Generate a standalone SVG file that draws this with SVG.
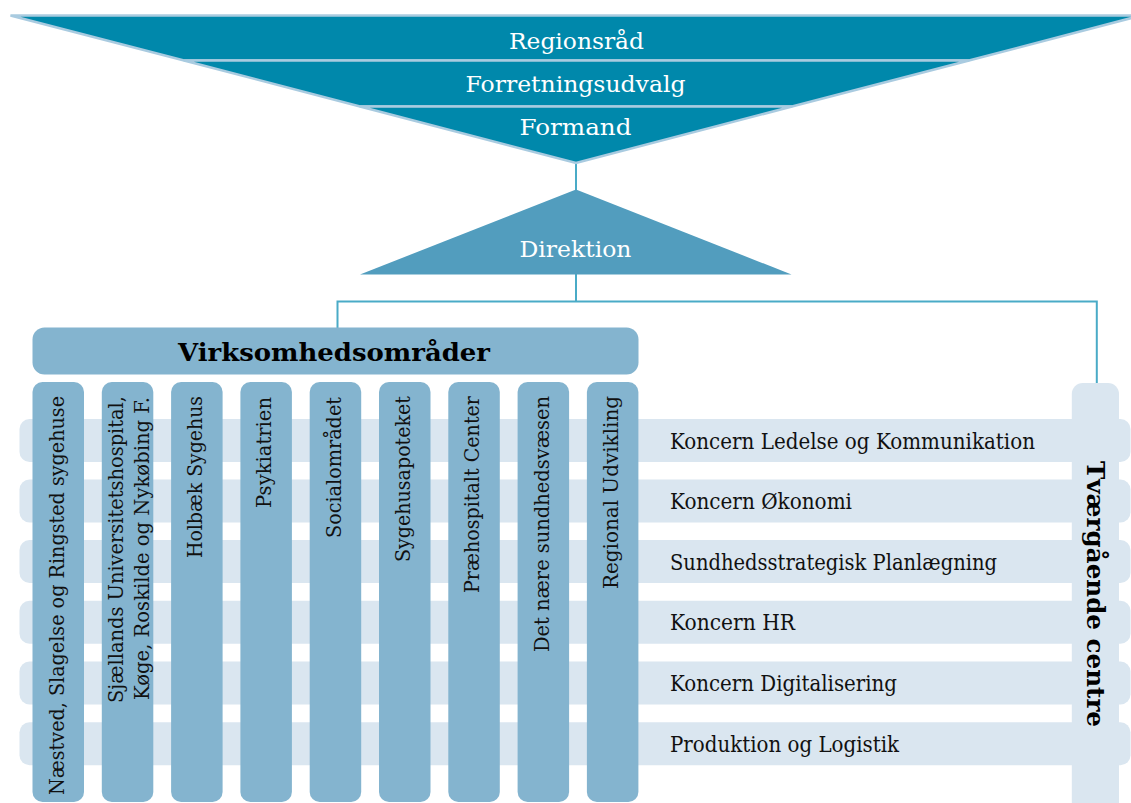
<svg xmlns="http://www.w3.org/2000/svg" width="1131" height="803" viewBox="0 0 1131 803">
<style>
text{font-family:"DejaVu Serif","Liberation Serif",serif;}
.band{fill:#0088ab;stroke:#a9cbe0;stroke-width:2.5;stroke-linejoin:miter;}
.wt{fill:#ffffff;font-size:23px;text-anchor:middle;}
.dir{fill:#529dbe;}
.conn{stroke:#4aabc7;stroke-width:2;fill:none;}
.vbox{fill:#84b4cf;}
.row{fill:#dae6f0;}
.col{fill:#84b4cf;}
.lbl{fill:#111;font-size:22px;}
.ctext{fill:#111;font-size:21px;text-anchor:end;}
.bold{fill:#000;font-weight:bold;font-size:25px;text-anchor:middle;}
</style>
<rect width="1131" height="803" fill="#ffffff"/>

<g id="connectors">
<line class="conn" x1="576" y1="162" x2="576" y2="190"/>
<line class="conn" x1="576" y1="274" x2="576" y2="301.5"/>
<polyline class="conn" points="337.5,328 337.5,301.5 1096.8,301.5 1096.8,384"/>
</g>

<g id="regionsraad">
<polygon class="band" points="10.5,15.5 1141,15.5 969,60.5 184,60.5"/>
<text class="wt" x="576.5" y="49" textLength="135" lengthAdjust="spacingAndGlyphs">Regionsråd</text>
</g>
<g id="forretningsudvalg">
<polygon class="band" points="184,60.5 969,60.5 792,106.5 360,106.5"/>
<text class="wt" x="575.5" y="92" textLength="220" lengthAdjust="spacingAndGlyphs">Forretningsudvalg</text>
</g>
<g id="formand">
<polygon class="band" points="360,106.5 792,106.5 576,163"/>
<text class="wt" x="575.5" y="134.5" textLength="112" lengthAdjust="spacingAndGlyphs">Formand</text>
</g>

<g id="direktion">
<polygon class="dir" points="576,189.5 791.5,274.5 360,274.5"/>
<text class="wt" x="575.5" y="257" font-size="24" textLength="112" lengthAdjust="spacingAndGlyphs">Direktion</text>
</g>

<g id="tvaergaaende-centre">
<rect class="row" x="1071.8" y="383" width="47.2" height="430" rx="11"/>
</g>

<g id="rows">
<g id="row-ledelse"><rect class="row" x="19.5" y="419" width="1111" height="43" rx="10"/>
<text class="lbl" x="670" y="448.5" textLength="365" lengthAdjust="spacingAndGlyphs">Koncern Ledelse og Kommunikation</text></g>
<g id="row-oekonomi"><rect class="row" x="19.5" y="479.5" width="1111" height="43" rx="10"/>
<text class="lbl" x="670" y="509" textLength="182" lengthAdjust="spacingAndGlyphs">Koncern Økonomi</text></g>
<g id="row-sundhedsstrategisk"><rect class="row" x="19.5" y="540" width="1111" height="43" rx="10"/>
<text class="lbl" x="670" y="569.5" textLength="327" lengthAdjust="spacingAndGlyphs">Sundhedsstrategisk Planlægning</text></g>
<g id="row-hr"><rect class="row" x="19.5" y="600.8" width="1111" height="43" rx="10"/>
<text class="lbl" x="670" y="630" textLength="125" lengthAdjust="spacingAndGlyphs">Koncern HR</text></g>
<g id="row-digitalisering"><rect class="row" x="19.5" y="661.5" width="1111" height="43" rx="10"/>
<text class="lbl" x="670" y="691" textLength="227" lengthAdjust="spacingAndGlyphs">Koncern Digitalisering</text></g>
<g id="row-produktion"><rect class="row" x="19.5" y="722.3" width="1111" height="43" rx="10"/>
<text class="lbl" x="670" y="751.5" textLength="229" lengthAdjust="spacingAndGlyphs">Produktion og Logistik</text></g>
</g>

<g id="tvaergaaende-label">
<text class="bold" transform="translate(1087,594) rotate(90)" x="0" y="0" textLength="266" lengthAdjust="spacingAndGlyphs">Tværgående centre</text>
</g>

<g id="virksomhedsomraader">
<rect class="vbox" x="32.5" y="327.5" width="606" height="47" rx="12"/>
<text class="bold" x="334" y="361" font-size="26" textLength="312" lengthAdjust="spacingAndGlyphs">Virksomhedsområder</text>
</g>

<g id="col-naestved">
<rect class="col" x="32.5" y="382" width="51.5" height="420" rx="10"/>
<text class="ctext" transform="translate(63.5,396) rotate(-90)" textLength="399" lengthAdjust="spacingAndGlyphs">Næstved, Slagelse og Ringsted sygehuse</text>
</g>
<g id="col-sjaellands">
<rect class="col" x="101.8" y="382" width="51.5" height="420" rx="10"/>
<text class="ctext" transform="translate(122.5,396) rotate(-90)" textLength="307" lengthAdjust="spacingAndGlyphs">Sjællands Universitetshospital,</text>
<text class="ctext" transform="translate(148.5,397) rotate(-90)" textLength="303" lengthAdjust="spacingAndGlyphs">Køge, Roskilde og Nykøbing F.</text>
</g>
<g id="col-holbaek">
<rect class="col" x="171.1" y="382" width="51.5" height="420" rx="10"/>
<text class="ctext" transform="translate(202,396) rotate(-90)" textLength="162" lengthAdjust="spacingAndGlyphs">Holbæk Sygehus</text>
</g>
<g id="col-psykiatrien">
<rect class="col" x="240.4" y="382" width="51.5" height="420" rx="10"/>
<text class="ctext" transform="translate(271.3,397) rotate(-90)" textLength="111" lengthAdjust="spacingAndGlyphs">Psykiatrien</text>
</g>
<g id="col-social">
<rect class="col" x="309.7" y="382" width="51.5" height="420" rx="10"/>
<text class="ctext" transform="translate(340.6,397) rotate(-90)" textLength="141" lengthAdjust="spacingAndGlyphs">Socialområdet</text>
</g>
<g id="col-sygehusapoteket">
<rect class="col" x="379" y="382" width="51.5" height="420" rx="10"/>
<text class="ctext" transform="translate(409.9,396) rotate(-90)" textLength="166" lengthAdjust="spacingAndGlyphs">Sygehusapoteket</text>
</g>
<g id="col-praehospitalt">
<rect class="col" x="448.3" y="382" width="51.5" height="420" rx="10"/>
<text class="ctext" transform="translate(479.2,396) rotate(-90)" textLength="197" lengthAdjust="spacingAndGlyphs">Præhospitalt Center</text>
</g>
<g id="col-naere">
<rect class="col" x="517.6" y="382" width="51.5" height="420" rx="10"/>
<text class="ctext" transform="translate(548.5,396) rotate(-90)" textLength="256" lengthAdjust="spacingAndGlyphs">Det nære sundhedsvæsen</text>
</g>
<g id="col-regional">
<rect class="col" x="586.9" y="382" width="51.5" height="420" rx="10"/>
<text class="ctext" transform="translate(617.8,396) rotate(-90)" textLength="193" lengthAdjust="spacingAndGlyphs">Regional Udvikling</text>
</g>
</svg>
